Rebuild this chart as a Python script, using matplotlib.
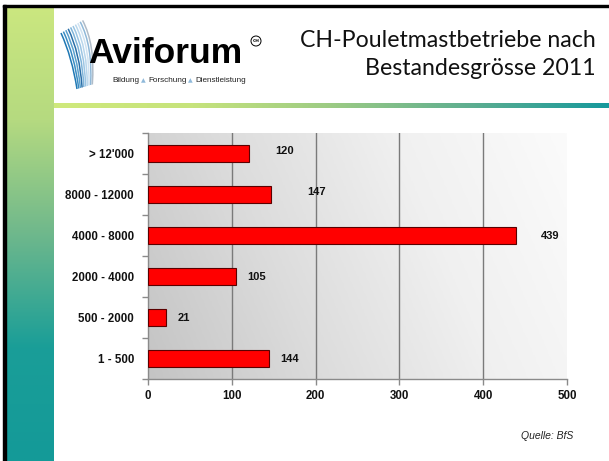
import numpy as np
import matplotlib
matplotlib.use("Agg")
import matplotlib.pyplot as plt
from matplotlib import font_manager
from matplotlib.colors import LinearSegmentedColormap
from matplotlib.patches import Rectangle, Circle
from matplotlib.path import Path
from matplotlib.patches import PathPatch

# ---------------- data ----------------
categories = ["1 - 500", "500 - 2000", "2000 - 4000", "4000 - 8000", "8000 - 12000", "> 12'000"]
values = [144, 21, 105, 439, 147, 120]
x_ticks = [0, 100, 200, 300, 400, 500]
title_lines = ["CH-Pouletmastbetriebe nach", "Bestandesgrösse 2011"]
source_text = "Quelle: BfS"
logo_name = "Aviforum"
logo_sub = ["Bildung", "Forschung", "Dienstleistung"]

# label offsets (pixels right of bar end / points up) – layout only
label_dx = [21, 18, 21, 34, 45, 36]
label_dy = [0, 0, 0, 0, 2, 1.5]


def has_font(name):
    try:
        font_manager.findfont(font_manager.FontProperties(family=name), fallback_to_default=False)
        return True
    except Exception:
        return False

narrow = "Liberation Sans Narrow" if has_font("Liberation Sans Narrow") else None

W, H = 609, 461
fig = plt.figure(figsize=(W / 100, H / 100), dpi=100)
fig.patch.set_facecolor("white")

# ---------------- decoration overlay (pixel coords) ----------------
deco = fig.add_axes([0, 0, 1, 1], zorder=0)
deco.set_xlim(0, W)
deco.set_ylim(H, 0)
deco.axis("off")

# left vertical gradient strip
strip_cmap = LinearSegmentedColormap.from_list("strip", ["#cbe77f", "#b5da80", "#6fb88c", "#1a9e98", "#149a98"])
grad_v = np.linspace(0, 1, 256).reshape(-1, 1)
deco.imshow(grad_v, cmap=strip_cmap, extent=[6, 54, H, 7], aspect="auto", zorder=1)

# horizontal gradient bar
bar_cmap = LinearSegmentedColormap.from_list("hbar", ["#cfe97b", "#c6e37c", "#9ccb84", "#5eae90", "#16999c"])
grad_h = np.linspace(0, 1, 256).reshape(1, -1)
deco.imshow(grad_h, cmap=bar_cmap, extent=[54, W, 108, 103], aspect="auto", zorder=1)

# black frame (left + top)
deco.add_patch(Rectangle((3, 5), 3, H, color="black", zorder=2))
deco.add_patch(Rectangle((3, 5), W, 2, color="black", zorder=2))

# logo stripes (fan of blue strokes)
stripe_cols = ["#1f78b4", "#3a8cc2", "#5aa0cd", "#2a6fa8", "#7fb4d9", "#9cc5e3",
               "#b8d6ec", "#cfe2f1", "#8fb8d8", "#b0bcc8"]
for i, c in enumerate(stripe_cols):
    x0 = 61 + i * 2.4
    y0 = 33 - i * 1.4
    x1 = 77 + i * 1.7
    y1 = 89 - i * 0.5
    verts = [(x0, y0), (x0 + 11 + i * 0.2, y0 + 24), (x1, y1)]
    p = Path(verts, [Path.MOVETO, Path.CURVE3, Path.CURVE3])
    deco.add_patch(PathPatch(p, facecolor="none", edgecolor=c, lw=1.1, zorder=3))

# logo text
if narrow:
    deco.text(88, 63, logo_name, fontsize=30, fontweight="bold", family=narrow,
              color="black", ha="left", va="baseline", zorder=4)
else:
    deco.text(88, 63, logo_name, fontsize=25.5, fontweight="bold", family="Liberation Sans",
              color="black", ha="left", va="baseline", zorder=4)

# circled CH mark
deco.add_patch(Circle((256, 41), 5, facecolor="white", edgecolor="black", lw=0.7, zorder=4))
deco.text(256, 41.3, "CH", fontsize=3.2, ha="center", va="center", fontweight="bold", zorder=5)

# subtitle chain
sub_fam = [narrow, "DejaVu Sans"] if narrow else ["Liberation Sans", "DejaVu Sans"]
sub_fs = 6.5 if narrow else 5.9
t = deco.text(112, 82, logo_sub[0], fontsize=sub_fs, family=sub_fam, color="#222222",
              ha="left", va="baseline", zorder=4)
for word in logo_sub[1:]:
    tri = deco.annotate("\u25B2", xy=(1, 0), xycoords=t, xytext=(1.5, 0.3), textcoords="offset points",
                        fontsize=sub_fs * 0.75, family="DejaVu Sans", color="#8fb9da",
                        ha="left", va="bottom", zorder=4)
    t = deco.annotate(word, xy=(1, 0), xycoords=tri, xytext=(1.5, -0.3), textcoords="offset points",
                      fontsize=sub_fs, family=sub_fam, color="#222222",
                      ha="left", va="bottom", zorder=4)

# title
title_font = "Lato" if has_font("Lato") else "DejaVu Sans"
deco.text(596, 47, title_lines[0], fontsize=16.7, family=title_font, ha="right", va="baseline",
          color="#111111", zorder=4)
deco.text(596, 75, title_lines[1], fontsize=16.7, family=title_font, ha="right", va="baseline",
          color="#111111", zorder=4)

# source
deco.text(573, 439, source_text, fontsize=7.5, style="italic", family="Liberation Sans",
          ha="right", va="baseline", color="#222222", zorder=4)

# ---------------- chart ----------------
ax = fig.add_axes([148 / W, 1 - 379 / H, (567 - 148) / W, (379 - 133) / H], zorder=2)
ax.set_xlim(0, 500)
ax.set_ylim(-0.5, len(categories) - 0.5)

# gradient plot background
gx, gy = np.meshgrid(np.linspace(0, 1, 300), np.linspace(0, 1, 100))
gz = 0.8 * gx + 0.2 * (1 - gy)
bg_cmap = LinearSegmentedColormap.from_list("bg", ["#c4c4c4", "#dcdcdc", "#f0f0f0", "#fbfbfb"])
ax.imshow(gz, cmap=bg_cmap, extent=[0, 500, -0.5, len(categories) - 0.5], origin="upper",
          aspect="auto", zorder=0)

for xt in x_ticks[1:-1]:
    ax.axvline(xt, color="#7a7a7a", lw=1.0, zorder=1)

ypos = np.arange(len(categories))
ax.barh(ypos, values, height=0.4, color="#ff0000", edgecolor="#5a0000", lw=0.8, zorder=3)

for y, v, dx, dy in zip(ypos, values, label_dx, label_dy):
    ax.annotate(str(v), xy=(v, y), xytext=(dx * 0.72, dy), textcoords="offset points",
                ha="center", va="center", fontsize=8, fontweight="bold",
                family="Liberation Sans", color="#111111", zorder=4)

for s in ["top", "right"]:
    ax.spines[s].set_visible(False)
for s in ["left", "bottom"]:
    ax.spines[s].set_color("#8a8a8a")
    ax.spines[s].set_linewidth(1.0)

ax.set_yticks(ypos)
ax.set_yticklabels(categories)
ax.set_yticks(np.arange(-0.5, len(categories) - 0.4, 1.0), minor=True)
ax.tick_params(axis="y", which="major", length=0, pad=10)
ax.tick_params(axis="y", which="minor", length=4, color="#8a8a8a", width=1)
ax.set_xticks(x_ticks)
ax.tick_params(axis="x", which="major", length=4, color="#8a8a8a", width=1, pad=4)
for lab in ax.get_yticklabels() + ax.get_xticklabels():
    lab.set_fontfamily("Liberation Sans")
    lab.set_fontweight("bold")
    lab.set_fontsize(8.3)
    lab.set_color("#111111")

fig.savefig("out.png", dpi=100)
